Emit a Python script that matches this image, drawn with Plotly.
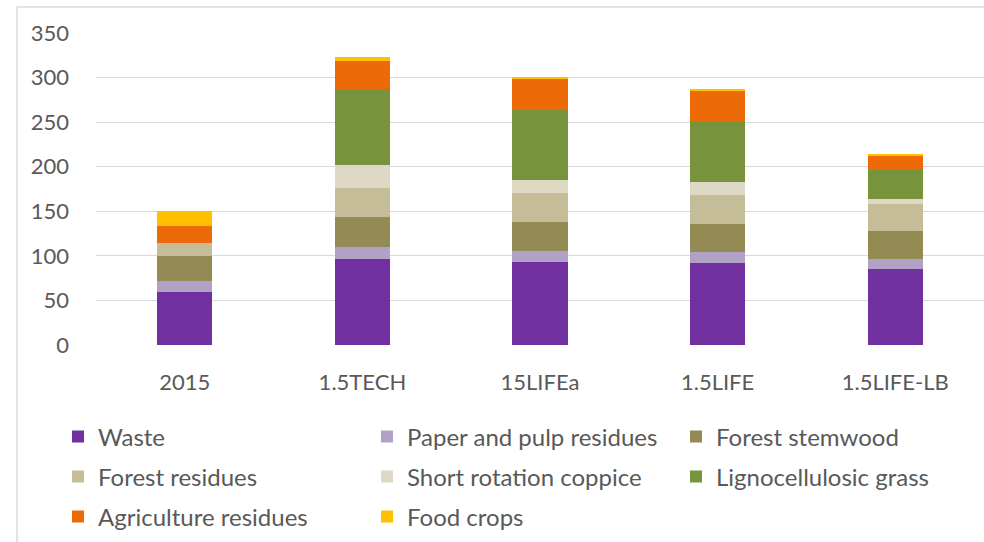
import plotly.graph_objects as go

# Scenario categories on the x axis
scenarios = ["2015", "1.5TECH", "15LIFEa", "1.5LIFE", "1.5LIFE-LB"]

# Biomass supply by feedstock (stacked from bottom to top)
waste = [60, 96, 93, 92, 85]
paper_pulp = [12, 14, 12, 12, 12]
forest_stemwood = [28, 34, 33, 32, 31]
forest_residues = [14, 32, 32, 32, 30]
short_rotation_coppice = [0, 26, 15, 15, 6]
ligno_grass = [0, 85, 79, 67, 32]
agri_residues = [19, 32, 34, 36, 17]
food_crops = [17, 4, 3, 0.6, 0.6]

series = [
    ("Waste", waste, "#7030A0"),
    ("Paper and pulp residues", paper_pulp, "#B2A1C7"),
    ("Forest stemwood", forest_stemwood, "#948A54"),
    ("Forest residues", forest_residues, "#C4BD97"),
    ("Short rotation coppice", short_rotation_coppice, "#DDD9C4"),
    ("Lignocellulosic grass", ligno_grass, "#77933C"),
    ("Agriculture residues", agri_residues, "#EC6A08"),
    ("Food crops", food_crops, "#FFC000"),
]

y_ticks = [0, 50, 100, 150, 200, 250, 300, 350]

FONT = "Lato"
TXT = "#595959"
W, H = 984, 542
ML, MR, MT, MB = 96, 0, 33, 197

pw = W - ML - MR
ph = H - MT - MB
def px_to_paper_x(px):
    return (px - ML) / pw
def px_to_paper_y(py):
    return (H - MB - py) / ph

# legend grid: three columns, three rows (one single-entry legend per item)
col_px = [58, 367, 676]
row_px = [437, 477, 517]

fig = go.Figure()
legend_layout = {}
for i, (name, vals, color) in enumerate(series):
    lg = "legend" if i == 0 else f"legend{i + 1}"
    fig.add_trace(go.Bar(
        x=scenarios, y=vals, name=name,
        marker=dict(color=color, line=dict(width=0)),
        legend=lg,
    ))
    legend_layout[lg] = dict(
        orientation="h", xanchor="left", yanchor="middle",
        x=px_to_paper_x(col_px[i % 3]), y=px_to_paper_y(row_px[i // 3]),
        font=dict(family=FONT, size=24, color=TXT),
        bgcolor="rgba(0,0,0,0)",
    )

# chart-area frame (top and left edges)
frame_col = "#D9D9D9"
shapes = [
    dict(type="line", xref="paper", yref="paper",
         x0=px_to_paper_x(17), x1=px_to_paper_x(W + 5),
         y0=px_to_paper_y(7), y1=px_to_paper_y(7),
         line=dict(color=frame_col, width=1.5)),
    dict(type="line", xref="paper", yref="paper",
         x0=px_to_paper_x(17), x1=px_to_paper_x(17),
         y0=px_to_paper_y(7), y1=px_to_paper_y(H + 5),
         line=dict(color=frame_col, width=1.5)),
]

fig.update_layout(
    width=W, height=H,
    margin=dict(l=ML, r=MR, t=MT, b=MB),
    paper_bgcolor="white", plot_bgcolor="white",
    barmode="stack", bargap=0.69,
    font=dict(family=FONT, size=22, color=TXT),
    xaxis=dict(
        type="category", range=[-0.5, 4.5],
        showgrid=False, showline=False, zeroline=False,
        ticks="", ticklabelstandoff=22,
        tickfont=dict(family=FONT, size=22, color=TXT),
    ),
    yaxis=dict(
        range=[0, 350], tickvals=y_ticks,
        showgrid=True, gridcolor="#D9D9D9", gridwidth=1,
        zeroline=False, showline=False, ticks="",
        ticklabelstandoff=26,
        tickfont=dict(family=FONT, size=22, color=TXT),
    ),
    shapes=shapes,
    showlegend=True,
    **legend_layout,
)

fig.write_html("out.html")
